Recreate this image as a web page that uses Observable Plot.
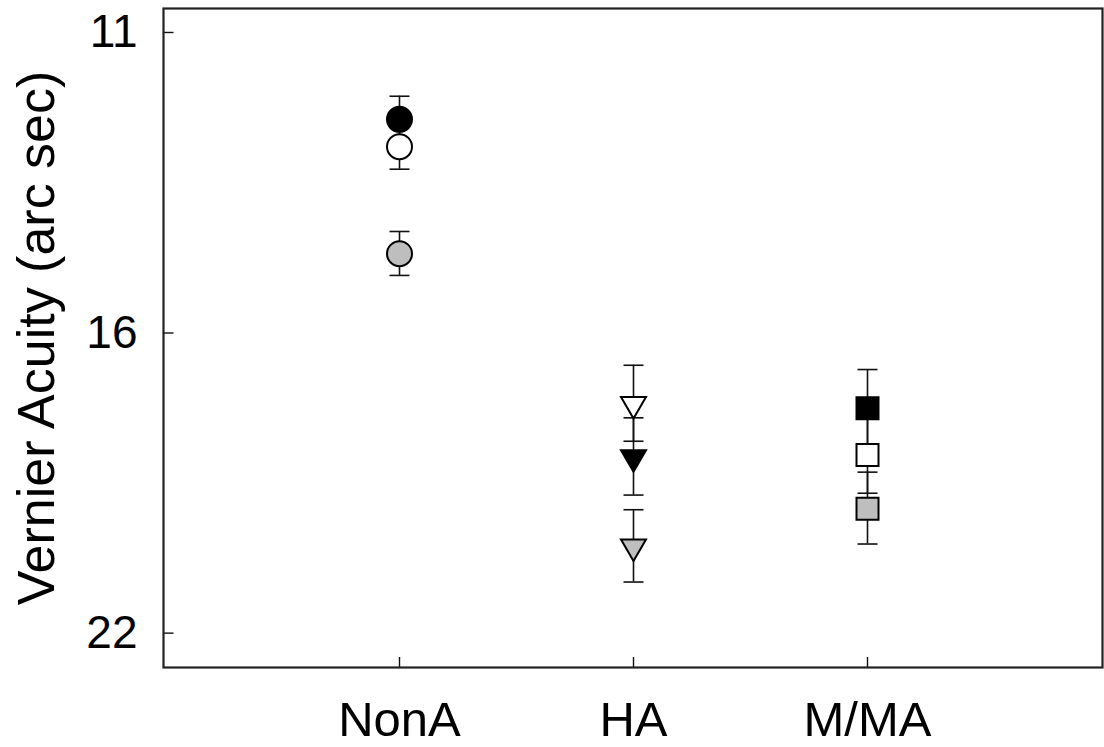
<!DOCTYPE html>
<html>
<head>
<meta charset="utf-8">
<script src="https://cdn.jsdelivr.net/npm/d3@7"></script>
<script src="https://cdn.jsdelivr.net/npm/@observablehq/plot@0.6"></script>
<style>
  html, body { margin: 0; padding: 0; background: #fff; }
  #chart svg { display: block; }
</style>
</head>
<body>
<div id="chart"></div>
<script>
// ---- data ----
const categories = ["NonA", "HA", "M/MA"];
const seriesNames = ["filled", "open", "grey"];
const meanFilled = [12.16, 17.96, 16.97];
const meanOpen   = [12.55, 16.89, 17.91];
const meanGrey   = [14.20, 19.91, 19.06];
const semFilled  = [0.32, 0.80, 0.74];
const semOpen    = [0.33, 0.74, 0.81];
const semGrey    = [0.36, 0.83, 0.79];
const yTickValues = [11, 15.56, 22];
const yTickLabels = ["11", "16", "22"];
const yLabel = "Vernier Acuity (arc sec)";

// ---- styles ----
const seriesFill = {filled: "#000000", open: "#ffffff", grey: "#bebebe"};

const circleSym = {draw(ctx, size) { const s = Math.sqrt(size / Math.PI); ctx.moveTo(s, 0); ctx.arc(0, 0, s, 0, 2 * Math.PI); ctx.closePath(); }};
const squareSym = {draw(ctx, size) { const s = Math.sqrt(size / Math.PI); ctx.rect(-s, -s, 2 * s, 2 * s); }};
const triDownSym = {draw(ctx, size) { const s = Math.sqrt(size / Math.PI); const h = 1.72 * s; ctx.moveTo(-s, -h / 3); ctx.lineTo(s, -h / 3); ctx.lineTo(0, 2 * h / 3); ctx.closePath(); }};
const capSym = {draw(ctx, size) { const s = Math.sqrt(size / Math.PI); ctx.moveTo(-s, 0); ctx.lineTo(s, 0); }};
const catSymbol = {"NonA": [circleSym, 12.5], "HA": [triDownSym, 12.5], "M/MA": [squareSym, 11]};

// ---- table ----
const means = [meanFilled, meanOpen, meanGrey];
const sems = [semFilled, semOpen, semGrey];
const rows = [];
seriesNames.forEach((s, si) => categories.forEach((c, ci) => {
  rows.push({series: s, cat: c, mean: means[si][ci], sem: sems[si][ci]});
}));
const caps = rows.flatMap(d => [{cat: d.cat, y: d.mean - d.sem}, {cat: d.cat, y: d.mean + d.sem}]);

const W = 1104, H = 747;
const mL = 163, mR = 2, mT = 8, mB = 80;
const plotW = W - mL - mR, plotH = H - mT - mB;

const symbolMarks = categories.map(c => Plot.dot(rows.filter(d => d.cat === c), {
  x: "cat", y: "mean", symbol: catSymbol[c][0], r: catSymbol[c][1],
  fill: d => seriesFill[d.series], stroke: "#000", strokeWidth: 2
}));

const chart = Plot.plot({
  width: W, height: H,
  marginLeft: mL, marginRight: mR, marginTop: mT, marginBottom: mB,
  style: {fontFamily: "'Liberation Sans', Arial, sans-serif", background: "#fff", color: "#000", overflow: "visible"},
  x: {type: "point", domain: categories, padding: 1},
  y: {type: "log", domain: [10.70, 22.89], reverse: true},
  marks: [
    Plot.ruleY(yTickValues, {y: d => d, insetRight: plotW - 10.5, stroke: "#111", strokeWidth: 1.4}),
    Plot.ruleX(categories, {x: d => d, insetTop: plotH - 10, stroke: "#111", strokeWidth: 1.4}),
    Plot.frame({stroke: "#222", strokeWidth: 2.2}),
    Plot.axisY(yTickValues, {tickSize: 0, tickPadding: 26, tickFormat: d => yTickLabels[yTickValues.indexOf(d)], fontSize: 46, label: null}),
    Plot.axisX({tickSize: 0, tickPadding: 34, fontSize: 49, label: null}),
    Plot.text([yLabel], {frameAnchor: "left", text: d => d, rotate: -90, dx: -110, lineAnchor: "bottom", textAnchor: "middle", fontSize: 52, fill: "#000"}),
    Plot.ruleX(rows, {x: "cat", y1: d => d.mean - d.sem, y2: d => d.mean + d.sem, stroke: "#111", strokeWidth: 1.6}),
    Plot.dot(caps, {x: "cat", y: "y", symbol: capSym, r: 10, fill: "none", stroke: "#111", strokeWidth: 1.6}),
    ...symbolMarks
  ]
});
document.getElementById("chart").appendChild(chart);
</script>
</body>
</html>
